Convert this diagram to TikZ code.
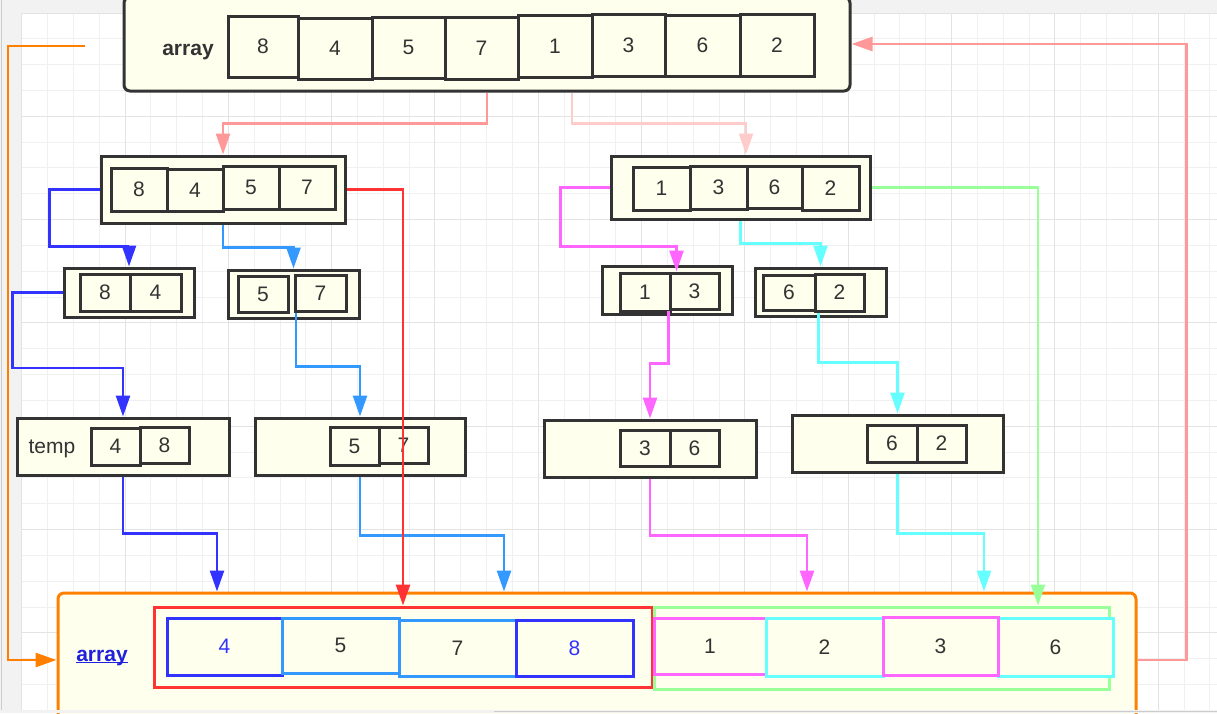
\documentclass[tikz,border=0pt]{standalone}
\usepackage{fontspec}
\setmainfont{Liberation Sans}
\usetikzlibrary{arrows.meta, calc}
\usepackage{xcolor}
\definecolor{boxline}{HTML}{333333}
\definecolor{boxfill}{HTML}{FFFFEE}
\definecolor{pinkline}{HTML}{FF9999}
\definecolor{palepink}{HTML}{FFCCCC}
\definecolor{deepblue}{HTML}{3333FF}
\definecolor{skyblue}{HTML}{3399FF}
\definecolor{redline}{HTML}{FF3333}
\definecolor{magline}{HTML}{FF66FF}
\definecolor{cyanline}{HTML}{66FFFF}
\definecolor{greenline}{HTML}{99FF99}
\definecolor{orangeline}{HTML}{FF8000}
\definecolor{linkblue}{HTML}{2020DD}
\definecolor{gridminor}{HTML}{F0F0F0}
\definecolor{gridmajor}{HTML}{E3E3E3}
\definecolor{panel}{HTML}{F2F2F2}
\newcommand\linkul[1]{\setbox0\hbox{#1}\rlap{\rule[-2.2pt]{\wd0}{1.6pt}}\box0}

\begin{document}
\begin{tikzpicture}[x=1pt, y=-1pt, >={Triangle[length=21pt, width=14pt]},
  every node/.style={font=\fontsize{21}{25}\selectfont, text=boxline},
  box/.style={draw=boxline, line width=3pt, fill=boxfill, inner sep=0pt},
  slot/.style={draw=#1, line width=3pt, fill=boxfill, inner sep=0pt},
  link/.style={#1, line width=2.6pt, ->}]
  \useasboundingbox (0,0) rectangle (1217,713);
  \clip (0,0) rectangle (1217,713);

  % Canvas with grid
  \fill[panel] (0,0) rectangle (21.7,713);
  \fill[panel] (0,0) rectangle (1217,13);
  \draw[gray!40, line width=1pt] (1.5,0) -- (1.5,713);
  \foreach \i in {0,...,46} \draw[gridminor, line width=1pt] (21.7+25.83*\i,13) -- (21.7+25.83*\i,713);
  \foreach \j in {0,...,27} \draw[gridminor, line width=1pt] (21.7,13+25.83*\j) -- (1217,13+25.83*\j);
  \foreach \i in {0,4,...,44} \draw[gridmajor, line width=1pt] (21.7+25.83*\i,13) -- (21.7+25.83*\i,713);
  \foreach \j in {0,4,...,24} \draw[gridmajor, line width=1pt] (21.7,13+25.83*\j) -- (1217,13+25.83*\j);

  % Top array
  \node[box, rounded corners=6pt, minimum width=726, minimum height=94] (arr) at (487,44) {};
  \node[font=\fontsize{21}{25}\selectfont\bfseries, anchor=base] (arrname) at (188,55) {array};
  \node[box, minimum width=70, minimum height=61] (t1) at (263,46.5) {8};
  \node[box, minimum width=74, minimum height=61] (t2) at (335,48.5) {4};
  \node[box, minimum width=73, minimum height=61] (t3) at (408.5,47.5) {5};
  \node[box, minimum width=73, minimum height=62] (t4) at (481.5,48) {7};
  \node[box, minimum width=74, minimum height=62] (t5) at (555,46) {1};
  \node[box, minimum width=73, minimum height=62] (t6) at (628.5,45) {3};
  \node[box, minimum width=75, minimum height=61] (t7) at (702.5,45.5) {6};
  \node[box, minimum width=74, minimum height=62] (t8) at (777,45) {2};

  % First split
  \node[box, minimum width=244, minimum height=67] (h1) at (223,189.5) {};
  \node[box, minimum width=56, minimum height=43] (h1a) at (139,189.5) {8};
  \node[box, minimum width=56, minimum height=42] (h1b) at (195,190) {4};
  \node[box, minimum width=56, minimum height=43] (h1c) at (251,187.5) {5};
  \node[box, minimum width=56, minimum height=43] (h1d) at (307,187.5) {7};
  \node[box, minimum width=259, minimum height=63] (h2) at (740.5,187.5) {};
  \node[box, minimum width=57, minimum height=43] (h2a) at (661.5,188.5) {1};
  \node[box, minimum width=57, minimum height=43] (h2b) at (718.5,187.5) {3};
  \node[box, minimum width=55, minimum height=42] (h2c) at (774.5,187) {6};
  \node[box, minimum width=57, minimum height=44] (h2d) at (830.5,188) {2};

  % Second split
  \node[box, minimum width=130, minimum height=49] (q1) at (129,292.5) {};
  \node[box, minimum width=50, minimum height=37] (q1a) at (105,292.5) {8};
  \node[box, minimum width=51, minimum height=37] (q1b) at (155.5,292.5) {4};
  \node[box, minimum width=131, minimum height=48] (q2) at (293.5,294) {};
  \node[box, minimum width=50, minimum height=36] (q2a) at (263,294) {5};
  \node[box, minimum width=51, minimum height=36] (q2b) at (320.5,293) {7};
  \node[box, minimum width=130, minimum height=48] (q3) at (667,290) {};
  \node[box, minimum width=50, minimum height=38] (q3a) at (645,292) {1};
  \node[box, minimum width=49, minimum height=36] (q3b) at (694.5,291) {3};
  \node[box, minimum width=131, minimum height=48] (q4) at (820.5,292) {};
  \node[box, minimum width=52, minimum height=35] (q4a) at (789,292.5) {6};
  \node[box, minimum width=49, minimum height=37] (q4b) at (839.5,292.5) {2};

  % Merged pairs
  \node[box, minimum width=212, minimum height=57] (m1) at (123,446.5) {};
  \node[anchor=base] (tmp) at (52,453) {temp};
  \node[box, minimum width=49, minimum height=37] (m1a) at (115.5,446.5) {4};
  \node[box, minimum width=49, minimum height=36] (m1b) at (164.5,445) {8};
  \node[box, minimum width=210, minimum height=57] (m2) at (360,446.5) {};
  \node[box, minimum width=49, minimum height=38] (m2a) at (354.5,446) {5};
  \node[box, minimum width=49, minimum height=36] (m2b) at (403.5,445) {7};
  \node[box, minimum width=212, minimum height=57] (m3) at (650,448.5) {};
  \node[box, minimum width=50, minimum height=36] (m3a) at (645,448) {3};
  \node[box, minimum width=49, minimum height=36] (m3b) at (694.5,448) {6};
  \node[box, minimum width=211, minimum height=57] (m4) at (897.5,443.5) {};
  \node[box, minimum width=50, minimum height=37] (m4a) at (892,443.5) {6};
  \node[box, minimum width=49, minimum height=37] (m4b) at (941.5,443.5) {2};

  % Result array
  \node[box, draw=orangeline, rounded corners=6pt, minimum width=1078, minimum height=134] (res) at (597,660) {};
  \node[font=\fontsize{21}{25}\selectfont\bfseries, text=linkblue, anchor=base] (resname) at (102,661) {\linkul{array}};
  \node[slot=redline, minimum width=498, minimum height=80] (resL) at (403,647) {};
  \node[slot=greenline, minimum width=455, minimum height=82] (resR) at (881.5,648) {};
  \node[slot=deepblue, text=deepblue, minimum width=115, minimum height=57] (r1) at (224.5,646.5) {4};
  \node[slot=skyblue, minimum width=117, minimum height=55] (r2) at (340.5,645.5) {5};
  \node[slot=skyblue, minimum width=117, minimum height=56] (r3) at (457.5,648) {7};
  \node[slot=deepblue, text=deepblue, minimum width=117, minimum height=56] (r4) at (574.5,648) {8};
  \node[slot=magline, minimum width=112, minimum height=56] (r5) at (710,646) {1};
  \node[slot=cyanline, minimum width=117, minimum height=58] (r6) at (824.5,647) {2};
  \node[slot=cyanline, minimum width=115, minimum height=58] (r8) at (1055.5,647) {6};
  \node[slot=magline, minimum width=115, minimum height=58] (r7) at (940.5,646) {3};

  % Connectors
  \draw[link=pinkline] (arr.south) -- ++(0,31) -| (h1.north);
  \draw[link=palepink] ([xshift=85]arr.south) -- ++(0,31) -| ([xshift=5.5]h2.north);
  \draw[link=deepblue] (h1.west) -| ++(-50,57) -| (q1.north);
  \draw[link=skyblue] (h1.south) -- ++(0,23) -| (q2.north);
  \draw[link=magline] (h2.west) -| ++(-49,59) -| ([xshift=8]q3b.north west);
  \draw[link=cyanline] (h2.south) -- ++(0,23) -| (q4.north);
  \draw[link=deepblue] (q1.west) -| ++(-50,75.5) -| (m1.north);
  \draw[link=skyblue] ([xshift=2.5]q2b.south west) -- ++(0,54) -| (m2.north);
  \draw[link=magline] (q3b.south west) -- ++(0,53) -| (m3.north);
  \draw[link=cyanline] ([xshift=5]q4b.south west) -- ++(0,50) -| (m4.north);
  \draw[link=deepblue] (m1.south) -- ++(0,57) -| ([xshift=-380]res.north);
  \draw[link=skyblue] (m2.south) -- ++(0,59) -| ([xshift=-93]res.north);
  \draw[link=magline] (m3.south) -- ++(0,57) -| ([xshift=210]res.north);
  \draw[link=cyanline] (m4.south) -- ++(0,60) -| ([xshift=387]res.north);
  \draw[link=redline] (h1.east) -| (resL.north);
  \draw[link=greenline] (h2.east) -| ([xshift=-72.5]resR.north east);
  \draw[link=pinkline] (res.east) -| ([xshift=335]arr.east) -- (arr.east);
  \coordinate (ostart) at (85,46);
  \draw[link=orangeline] (ostart) -- ++(-77,0) |- (res.west);

  % Window edge
  \fill[panel] (0,710) rectangle (1217,713);
  \draw[gray!40, line width=1.5pt] (494,711.5) -- (1217,711.5);
\end{tikzpicture}
\end{document}
